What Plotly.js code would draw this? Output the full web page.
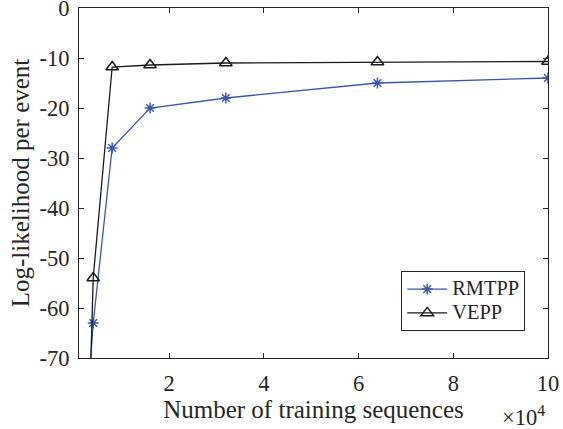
<!DOCTYPE html>
<html>
<head>
<meta charset="utf-8">
<script src="https://cdn.plot.ly/plotly-3.0.1.min.js"></script>
<style>html,body{margin:0;padding:0;background:#fff;}#chart{width:563px;height:429px;}</style>
</head>
<body>
<div id="chart"></div>
<script>
// Number of training sequences
const trainingSizes = [2000, 4000, 8000, 16000, 32000, 64000, 100000];
const rmtppValues = [-90, -63, -28, -20, -18, -15, -14];
const veppValues = [-120, -54, -11.8, -11.4, -11, -10.8, -10.7];
const seriesNames = ['RMTPP', 'VEPP'];
const xTickVals = [20000, 40000, 60000, 80000, 100000];
const xTickText = ['2', '4', '6', '8', '10'];
const yTickVals = [0, -10, -20, -30, -40, -50, -60, -70];
const yTickText = ['0', '-10', '-20', '-30', '-40', '-50', '-60', '-70'];

const font = '"Liberation Serif", "Times New Roman", serif';
const axisColor = '#262626';
const legendName = n => '<span style="font-size:20.4px">' + n + '</span>';

const traces = [
  {
    x: trainingSizes, y: rmtppValues, name: legendName(seriesNames[0]), mode: 'lines+markers',
    line: {color: '#3a55b4', width: 1.3},
    marker: {symbol: 'asterisk-open', size: 9, color: '#3a55b4', line: {color: '#3a55b4', width: 1.5}}
  },
  {
    x: trainingSizes, y: veppValues, name: legendName(seriesNames[1]), mode: 'lines+markers',
    line: {color: '#1a1a1a', width: 1.3},
    marker: {symbol: 'triangle-up-open', size: 11, color: '#1a1a1a', line: {color: '#1a1a1a', width: 1.5}}
  }
];

const layout = {
  width: 563, height: 429,
  margin: {l: 79, r: 15, t: 8, b: 71},
  paper_bgcolor: '#fff', plot_bgcolor: '#fff',
  font: {family: font, color: axisColor},
  showlegend: true,
  xaxis: {
    range: [1000, 100000],
    tickvals: xTickVals, ticktext: xTickText,
    ticks: 'inside', ticklen: 5, tickwidth: 1, tickcolor: axisColor,
    showline: true, linecolor: axisColor, linewidth: 1, mirror: 'ticks',
    showgrid: false, zeroline: false,
    tickfont: {family: font, size: 22.5, color: axisColor},
    ticklabelstandoff: 5, ticklabeloverflow: 'allow',
    title: {text: 'Number of training sequences', font: {family: font, size: 25, color: axisColor}, standoff: 4}
  },
  yaxis: {
    range: [-70, 0],
    tickvals: yTickVals, ticktext: yTickText,
    ticks: 'inside', ticklen: 5, tickwidth: 1, tickcolor: axisColor,
    showline: true, linecolor: axisColor, linewidth: 1, mirror: 'ticks',
    showgrid: false, zeroline: false,
    tickfont: {family: font, size: 22.5, color: axisColor},
    ticklabelstandoff: 4, ticklabeloverflow: 'allow',
    title: {text: 'Log-likelihood per event', font: {family: font, size: 25, color: axisColor}, standoff: 2}
  },
  legend: {
    x: 0.687, y: 0.248, xanchor: 'left', yanchor: 'top',
    bgcolor: '#fff', bordercolor: axisColor, borderwidth: 1,
    font: {family: font, size: 16, color: axisColor},
    itemwidth: 40, tracegroupgap: 0
  },
  annotations: [
    {text: '×10<sup>4</sup>', xref: 'paper', yref: 'paper', x: 1.0, y: 0, xanchor: 'right', yanchor: 'top',
     yshift: -42, xshift: -1, showarrow: false, font: {family: font, size: 22.5, color: axisColor}}
  ]
};

Plotly.newPlot('chart', traces, layout, {displayModeBar: false, staticPlot: true});
</script>
</body>
</html>
